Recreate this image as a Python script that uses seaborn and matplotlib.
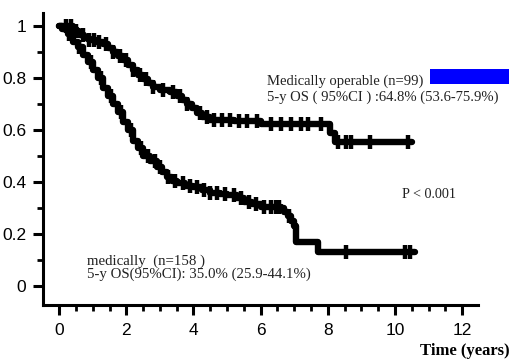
import numpy as np
import pandas as pd
import matplotlib
matplotlib.use("Agg")
import matplotlib.pyplot as plt
from matplotlib.patches import Rectangle
from matplotlib.ticker import MultipleLocator
import seaborn as sns

# Kaplan-Meier estimates (time in years, overall survival)
operable_t = [0, 0.4, 0.5, 0.6, 0.75, 0.9, 1.1, 1.3, 1.45, 1.6, 1.75, 1.9, 2.05, 2.2,
              2.35, 2.5, 2.65, 2.8, 3.0, 3.3, 3.5, 3.65, 3.8, 3.95, 4.1, 4.25, 4.5,
              5.2, 6.0, 8.05, 8.2, 10.5]
operable_s = [1.0, 0.99, 0.98, 0.965, 0.955, 0.945, 0.94, 0.93, 0.915, 0.90, 0.885,
              0.87, 0.85, 0.83, 0.81, 0.795, 0.78, 0.765, 0.755, 0.745, 0.73, 0.715,
              0.70, 0.685, 0.665, 0.65, 0.64, 0.635, 0.625, 0.59, 0.555, 0.555]
operable_censor = [0.2, 0.35, 0.5, 0.7, 0.9, 1.05, 1.2, 1.4, 1.6, 1.8, 2.0, 2.2, 2.4,
                   2.6, 2.8, 3.1, 3.4, 3.6, 3.8, 4.2, 4.4, 4.6, 4.85, 5.1, 5.35, 5.6,
                   5.9, 6.3, 6.6, 6.9, 7.2, 7.4, 7.8, 8.3, 8.55, 8.7, 9.25, 10.4]

inoperable_t = [0, 0.1, 0.25, 0.4, 0.55, 0.7, 0.85, 1.0, 1.15, 1.3, 1.45, 1.6, 1.75,
                1.9, 2.05, 2.2, 2.35, 2.5, 2.7, 2.9, 3.05, 3.2, 3.35, 3.5, 3.75, 4.0,
                4.25, 4.5, 4.8, 5.0, 5.3, 5.5, 5.75, 6.0, 6.6, 6.7, 6.8, 6.9, 7.0,
                7.05, 7.7, 10.6]
inoperable_s = [1.0, 0.99, 0.97, 0.94, 0.92, 0.89, 0.86, 0.83, 0.80, 0.76, 0.73, 0.70,
                0.67, 0.63, 0.60, 0.56, 0.53, 0.50, 0.48, 0.46, 0.44, 0.42, 0.405,
                0.395, 0.385, 0.38, 0.37, 0.36, 0.355, 0.35, 0.34, 0.325, 0.315,
                0.305, 0.30, 0.285, 0.27, 0.25, 0.23, 0.17, 0.133, 0.133]
inoperable_censor = [0.3, 0.6, 0.95, 1.25, 1.55, 1.85, 2.15, 2.45, 2.65, 2.85, 3.0,
                     3.25, 3.45, 3.7, 3.9, 4.1, 4.3, 4.5, 4.7, 4.95, 5.2, 5.4, 5.65,
                     5.85, 6.1, 6.3, 6.45, 6.55, 6.85, 8.55, 10.3, 10.45]

label_operable = "Medically operable (n=99)"
ci_operable = "5-y OS ( 95%CI ) :64.8% (53.6-75.9%)"
label_inoperable = "medically  (n=158 )"
ci_inoperable = "5-y OS(95%CI): 35.0% (25.9-44.1%)"
p_text = "P < 0.001"
x_title = "Time (years)"

x_ticks = [0, 2, 4, 6, 8, 10, 12]
y_ticks = [0, 0.2, 0.4, 0.6, 0.8, 1.0]
y_ticklabels = ["0", "0.2", "0.4", "0.6", "0.8", "1"]

sns.set_theme(style="ticks")
plt.rcParams["font.family"] = ["Liberation Sans", "DejaVu Sans"]

W, H = 510, 361
fig = plt.figure(figsize=(W / 100, H / 100), dpi=100)
ax = fig.add_axes([43 / W, 1 - 305 / H, (478 - 43) / W, (305 - 13) / H])

curves = pd.concat([
    pd.DataFrame({"time": operable_t, "surv": operable_s, "group": "operable"}),
    pd.DataFrame({"time": inoperable_t, "surv": inoperable_s, "group": "inoperable"}),
])
sns.lineplot(data=curves, x="time", y="surv", units="group", estimator=None,
             color="black", linewidth=4.6, drawstyle="steps-post", ax=ax,
             legend=False)


def step_value(times, surv, t):
    idx = np.searchsorted(times, t, side="right") - 1
    return np.asarray(surv)[idx]


marks = pd.concat([
    pd.DataFrame({"time": operable_censor,
                  "surv": step_value(operable_t, operable_s, operable_censor)}),
    pd.DataFrame({"time": inoperable_censor,
                  "surv": step_value(inoperable_t, inoperable_s, inoperable_censor)}),
])
sns.scatterplot(data=marks, x="time", y="surv", marker="|", s=90, linewidth=3.2,
                color="black", ax=ax, legend=False)

ax.set_xlim(-0.48, 12.47)
ax.set_ylim(-0.072, 1.05)
ax.set_xticks(x_ticks)
ax.xaxis.set_minor_locator(MultipleLocator(0.5))
ax.set_yticks(y_ticks)
ax.set_yticklabels(y_ticklabels)
ax.yaxis.set_minor_locator(MultipleLocator(0.1))
ax.set_xlabel("")
ax.set_ylabel("")
for side in ("top", "right"):
    ax.spines[side].set_visible(False)
for side in ("left", "bottom"):
    ax.spines[side].set_linewidth(2.2)
    ax.spines[side].set_color("black")
ax.tick_params(axis="both", which="major", length=7, width=2.2, color="black",
               labelsize=12.5, labelcolor="black", direction="out")
ax.tick_params(axis="both", which="minor", length=4, width=2.0, color="black",
               direction="out")
ax.tick_params(axis="y", which="major", pad=5)
ax.tick_params(axis="x", which="major", pad=6)
ax.set_facecolor("white")
fig.patch.set_facecolor("white")

serif = ["Liberation Serif", "DejaVu Serif"]
fig.text(267 / W, 1 - 81 / H, label_operable, family=serif, fontsize=10.5,
         ha="left", va="center", color="#222222")
fig.text(267 / W, 1 - 97 / H, ci_operable, family=serif, fontsize=10.5,
         ha="left", va="center", color="#222222")
fig.text(402 / W, 1 - 194 / H, p_text, family=serif, fontsize=10.2,
         ha="left", va="center", color="#222222")
fig.text(87 / W, 1 - 261 / H, label_inoperable, family=serif, fontsize=10.7,
         ha="left", va="center", color="#222222")
fig.text(87 / W, 1 - 274 / H, ci_inoperable, family=serif, fontsize=10.7,
         ha="left", va="center", color="#222222")
fig.text(510 / W, 1 - 351 / H, x_title, family=serif, fontsize=12,
         fontweight="bold", ha="right", va="center", color="black")

fig.patches.append(Rectangle((430 / W, 1 - 84 / H), 82 / W, 15 / H,
                             transform=fig.transFigure, facecolor="#0000ff",
                             edgecolor="none"))

fig.savefig("out.png", dpi=100)
